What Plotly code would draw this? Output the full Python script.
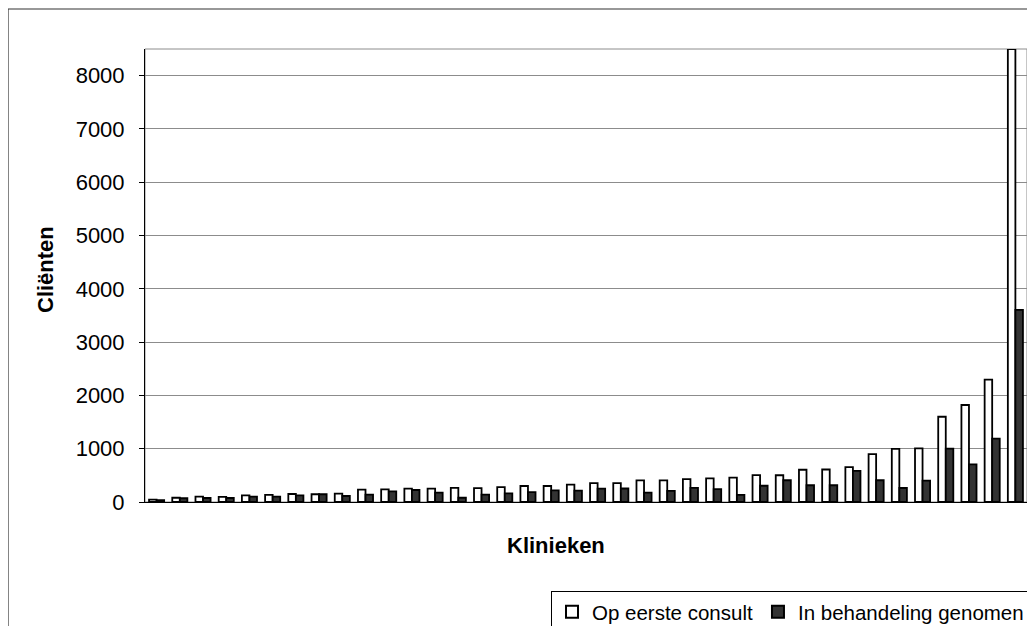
import plotly.graph_objects as go

klinieken = list(range(1, 39))
eerste_consult = [45, 80, 100, 95, 125, 135, 150, 145, 157, 232, 238, 250, 250, 265,
                  262, 280, 300, 300, 325, 356, 354, 405, 405, 430, 443, 456, 506, 502,
                  605, 610, 655, 897, 995, 1005, 1600, 1820, 2295, 8500]
in_behandeling = [35, 70, 75, 75, 100, 100, 125, 145, 113, 138, 200, 225, 175, 80,
                  137, 160, 187, 219, 212, 250, 253, 177, 209, 266, 240, 135, 305, 408,
                  314, 314, 584, 408, 263, 400, 1000, 705, 1188, 3605]
y_ticks = [0, 1000, 2000, 3000, 4000, 5000, 6000, 7000, 8000]

# the page body has an 8px margin; work in window pixels and subtract it
OFF = 8
W, H = 1035 - OFF, 626 - OFF
PL, PR, PT, PB = 145, 1027, 49, 502          # plot area in window pixels
L, R, T, B = PL - OFF, W - (PR - OFF), PT - OFF, H - (PB - OFF)
pw, ph = PR - PL, PB - PT

def px_x(x):
    return (x - PL) / pw

def px_y(y):
    return (PB - y) / ph

FONT = "Liberation Sans, Arial, sans-serif"

fig = go.Figure()
fig.add_trace(go.Bar(x=klinieken, y=eerste_consult, name="Op eerste consult",
                     marker=dict(color="white", line=dict(color="black", width=1.8))))
fig.add_trace(go.Bar(x=klinieken, y=in_behandeling, name="In behandeling genomen",
                     marker=dict(color="#333333", line=dict(color="black", width=1.8))))

fig.update_layout(
    width=W, height=H,
    margin=dict(l=L, r=R, t=T, b=B, pad=0, autoexpand=False),
    paper_bgcolor="white", plot_bgcolor="white",
    barmode="group", bargap=0.35, bargroupgap=0,
    font=dict(family=FONT, size=20, color="black"),
    showlegend=True,
    legend=dict(orientation="h", x=px_x(551), xanchor="left", y=px_y(591), yanchor="top",
                bordercolor="black", borderwidth=1, bgcolor="white",
                font=dict(family=FONT, size=20.5, color="black"),
                traceorder="normal", itemsizing="constant"),
    xaxis=dict(range=[0.5, 38.5], showticklabels=False, ticks="", showgrid=False,
               showline=True, linecolor="black", linewidth=1, zeroline=False),
    yaxis=dict(range=[0, 8500], tickvals=y_ticks, ticks="outside", ticklen=5,
               tickcolor="black", showline=True, linecolor="black", linewidth=1,
               showgrid=True, gridcolor="#8c8c8c", gridwidth=1, zeroline=False,
               tickfont=dict(family=FONT, size=22), ticklabelstandoff=10),
    shapes=[
        dict(type="rect", xref="paper", yref="paper", x0=0, x1=1, y0=0, y1=1,
             line=dict(color="#8c8c8c", width=1), layer="below"),
        dict(type="rect", xref="paper", yref="paper",
             x0=px_x(8), x1=px_x(1045), y0=px_y(9), y1=px_y(640),
             line=dict(color="#333333", width=1.2), layer="below"),
    ],
    annotations=[
        dict(text="<b>Klinieken</b>", xref="paper", yref="paper", x=px_x(556), y=px_y(545),
             xanchor="center", yanchor="middle", showarrow=False,
             font=dict(family=FONT, size=22, color="black")),
        dict(text="<b>Cliënten</b>", xref="paper", yref="paper", x=px_x(45), y=px_y(270),
             xanchor="center", yanchor="middle", showarrow=False, textangle=-90,
             font=dict(family=FONT, size=22, color="black")),
    ],
)

fig.write_html("out.html")
